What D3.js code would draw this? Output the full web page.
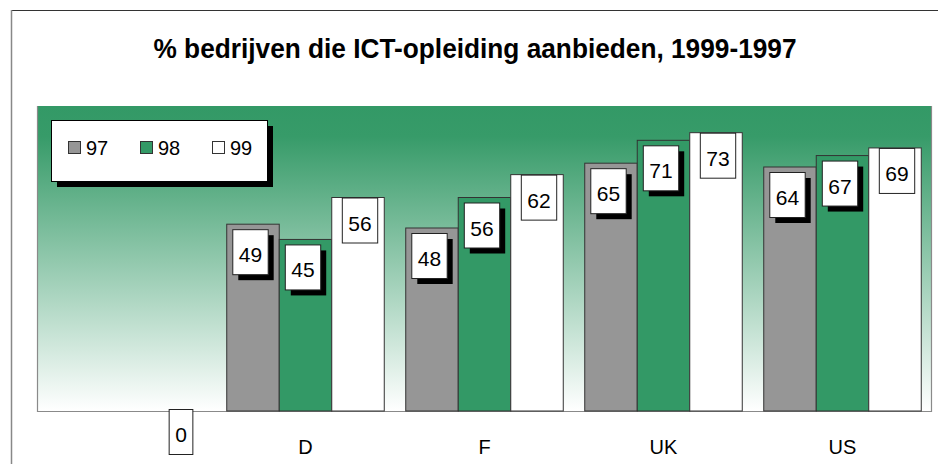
<!DOCTYPE html>
<html>
<head>
<meta charset="utf-8">
<script src="https://cdn.jsdelivr.net/npm/d3@7"></script>
<style>
  html, body { margin: 0; padding: 0; background: #ffffff; }
  svg { display: block; font-family: "Liberation Sans", Arial, sans-serif; }
</style>
</head>
<body>
<svg id="chart" width="938" height="464"></svg>
<script>
const title = "% bedrijven die ICT-opleiding aanbieden, 1999-1997";
const categories = ["", "D", "F", "UK", "US"];
const seriesNames = ["97", "98", "99"];
const values97 = [null, 49, 48, 65, 64];
const values98 = [null, 45, 56, 71, 67];
const values99 = [0, 56, 62, 73, 69];
const seriesColors = ["#969696", "#339966", "#ffffff"];

const seriesValues = [values97, values98, values99];

const svg = d3.select("#chart");
const W = 938, H = 464;
const plot = { left: 37, right: 932, top: 106, bottom: 411 };

// outer frame
svg.append("line").attr("x1", 11).attr("x2", W).attr("y1", 10.5).attr("y2", 10.5)
  .attr("stroke", "#333").attr("stroke-width", 1.2);
svg.append("line").attr("x1", 11.5).attr("x2", 11.5).attr("y1", 10).attr("y2", H)
  .attr("stroke", "#888").attr("stroke-width", 1.5);

// title
svg.append("text").attr("x", 475).attr("y", 58).attr("text-anchor", "middle")
  .attr("font-size", 27).attr("font-weight", "bold").attr("fill", "#000")
  .attr("textLength", 643).attr("lengthAdjust", "spacingAndGlyphs").text(title);

// gradient background
const defs = svg.append("defs");
const grad = defs.append("linearGradient").attr("id", "bg").attr("x1", 0).attr("y1", 0).attr("x2", 0).attr("y2", 1);
grad.append("stop").attr("offset", "0%").attr("stop-color", "#339966");
grad.append("stop").attr("offset", "10%").attr("stop-color", "#379b69");
grad.append("stop").attr("offset", "100%").attr("stop-color", "#ffffff");

svg.append("rect").attr("x", plot.left).attr("y", plot.top)
  .attr("width", plot.right - plot.left).attr("height", plot.bottom - plot.top)
  .attr("fill", "url(#bg)");
// plot border (left, bottom, right)
svg.append("path")
  .attr("d", `M${plot.left + 0.5},${plot.top} V${plot.bottom + 0.5} H${plot.right - 0.5} V${plot.top}`)
  .attr("fill", "none").attr("stroke", "#8a8a8a").attr("stroke-width", 1.2);

const x = d3.scaleBand().domain(categories).range([plot.left, plot.right])
  .paddingInner(0.12).paddingOuter(0.06);
const xs = d3.scaleBand().domain(seriesNames).range([0, x.bandwidth()]);
const y = d3.scaleLinear().domain([0, 80]).range([plot.bottom, plot.top]);

// category axis labels
const xAxis = d3.axisBottom(x).tickSize(0).tickPadding(0);
const gx = svg.append("g").attr("transform", `translate(0,${plot.bottom})`).call(xAxis);
gx.select(".domain").remove();
gx.selectAll("text").attr("font-size", 20).attr("fill", "#000")
  .attr("font-family", "Liberation Sans, Arial, sans-serif")
  .attr("dy", null).attr("y", 43);

// bars
const data = [];
categories.forEach((c, i) => {
  seriesNames.forEach((s, j) => {
    const v = seriesValues[j][i];
    if (v !== null && v !== undefined) data.push({ cat: c, series: s, si: j, value: v });
  });
});

svg.append("g").selectAll("rect").data(data.filter(d => d.value > 0)).join("rect")
  .attr("x", d => x(d.cat) + xs(d.series))
  .attr("y", d => y(d.value))
  .attr("width", xs.bandwidth())
  .attr("height", d => y(0) - y(d.value))
  .attr("fill", d => seriesColors[d.si])
  .attr("stroke", "#333").attr("stroke-width", 1);

// value labels
const lbl = svg.append("g");
data.forEach(d => {
  const bx = x(d.cat) + xs(d.series);
  const bw = xs.bandwidth();
  const txt = String(d.value);
  const tw = txt.length * 11.7;
  const boxW = tw + 12;
  const boxH = 45;
  let rx, ry, shadow;
  if (d.si === 2) {
    rx = bx + bw / 2 - boxW / 2 + 1.5;
    ry = d.value > 0 ? y(d.value) : y(0) - 2;
    shadow = false;
  } else {
    rx = bx + (bw - boxW - 6) / 2;
    ry = y(d.value) + 5;
    shadow = true;
  }
  if (shadow) {
    lbl.append("rect").attr("x", rx + 6).attr("y", ry + 6).attr("width", boxW).attr("height", boxH).attr("fill", "#000");
  }
  lbl.append("rect").attr("x", rx + 0.5).attr("y", ry + 0.5).attr("width", boxW).attr("height", boxH)
    .attr("fill", "#fff").attr("stroke", "#222").attr("stroke-width", 1);
  lbl.append("text").attr("x", rx + 0.5 + boxW / 2).attr("y", ry + 33).attr("text-anchor", "middle")
    .attr("font-size", 21).attr("fill", "#000").text(txt);
});

// legend
const lg = { x: 51, y: 120, w: 216, h: 61 };
svg.append("rect").attr("x", lg.x + 6).attr("y", lg.y + 6).attr("width", lg.w).attr("height", lg.h).attr("fill", "#000");
svg.append("rect").attr("x", lg.x + 0.5).attr("y", lg.y + 0.5).attr("width", lg.w).attr("height", lg.h)
  .attr("fill", "#fff").attr("stroke", "#000").attr("stroke-width", 1);
seriesNames.forEach((s, j) => {
  const ix = 68 + j * 72;
  svg.append("rect").attr("x", ix + 0.5).attr("y", 141.5).attr("width", 12).attr("height", 12)
    .attr("fill", seriesColors[j]).attr("stroke", "#333").attr("stroke-width", 1);
  svg.append("text").attr("x", ix + 18).attr("y", 155).attr("font-size", 20).attr("fill", "#000").text(s);
});
</script>
</body>
</html>
